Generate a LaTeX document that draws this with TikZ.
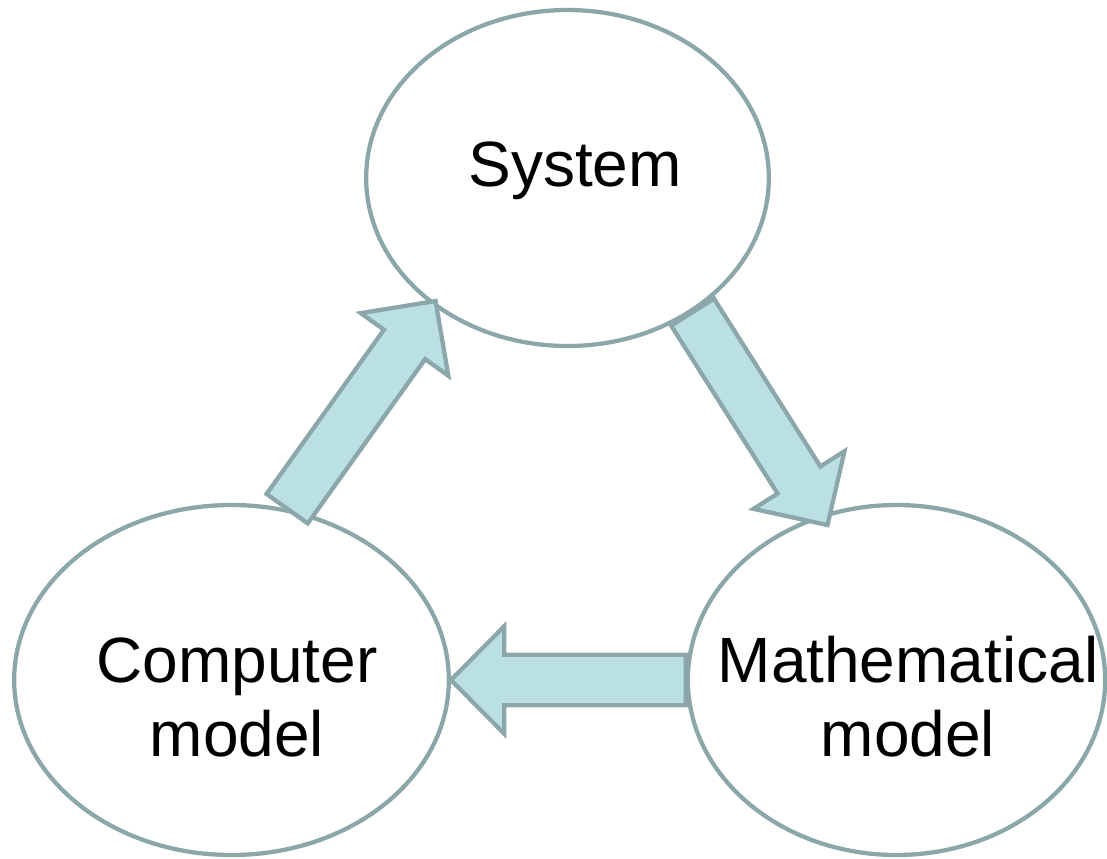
\documentclass[tikz,border=0pt]{standalone}
\usepackage{fontspec}
\setmainfont{Liberation Sans}
\usetikzlibrary{calc,shapes.geometric}

\definecolor{rimgray}{HTML}{8BA7AA}
\definecolor{flowfill}{HTML}{BBE0E3}

\tikzset{
  stage/.style={ellipse, draw=rimgray, line width=3.2pt, inner sep=0pt},
  stagetext/.style={font=\fontsize{48}{55.5}\selectfont, align=center, inner sep=0pt},
  flow/.style={draw=rimgray, fill=flowfill, line width=3.2pt, line join=miter}
}

% block arrow from #1 to #2
\newcommand{\flowarrow}[2]{%
  \draw[flow] let \p1=(#1), \p2=(#2),
      \n1={atan2(\y2-\y1,\x2-\x1)}, \n2={veclen(\x2-\x1,\y2-\y1)} in
    ($(\p1)+(\n1+90:19pt)$) -- ++(\n1:{\n2-40pt}) -- ++(\n1+90:21.4pt)
    -- (\p2) -- ($(\p1)+(\n1:{\n2-40pt})+(\n1-90:40.4pt)$) -- ++(\n1+90:21.4pt)
    -- ($(\p1)+(\n1-90:19pt)$) -- cycle;}

\begin{document}
\begin{tikzpicture}[x=0.75pt, y=-0.75pt]
  \useasboundingbox (0,0) rectangle (1107,858);

  % stages of the cycle
  \node[stage, minimum width=302pt, minimum height=252pt] (sys) at (567.5,178) {};
  \node[stage, minimum width=326pt, minimum height=262.5pt] (comp) at (231.5,680) {};
  \node[stage, minimum width=313pt, minimum height=262.5pt] (math) at (896.5,680) {};

  % labels
  \node[stagetext] (sys-text) at (575,170.5) {System};
  \node[stagetext] (comp-text) at (237,697) {Computer\\model};
  \node[stagetext] (math-text) at (908,697) {Mathematical\\model};

  % block arrows between the stages
  \flowarrow{sys.-47}{$(math.114)!9pt!(math.center)$}
  \flowarrow{math.west}{comp.east}
  \flowarrow{comp.72}{$(sys.223)!4pt!(sys.center)$}
\end{tikzpicture}
\end{document}
